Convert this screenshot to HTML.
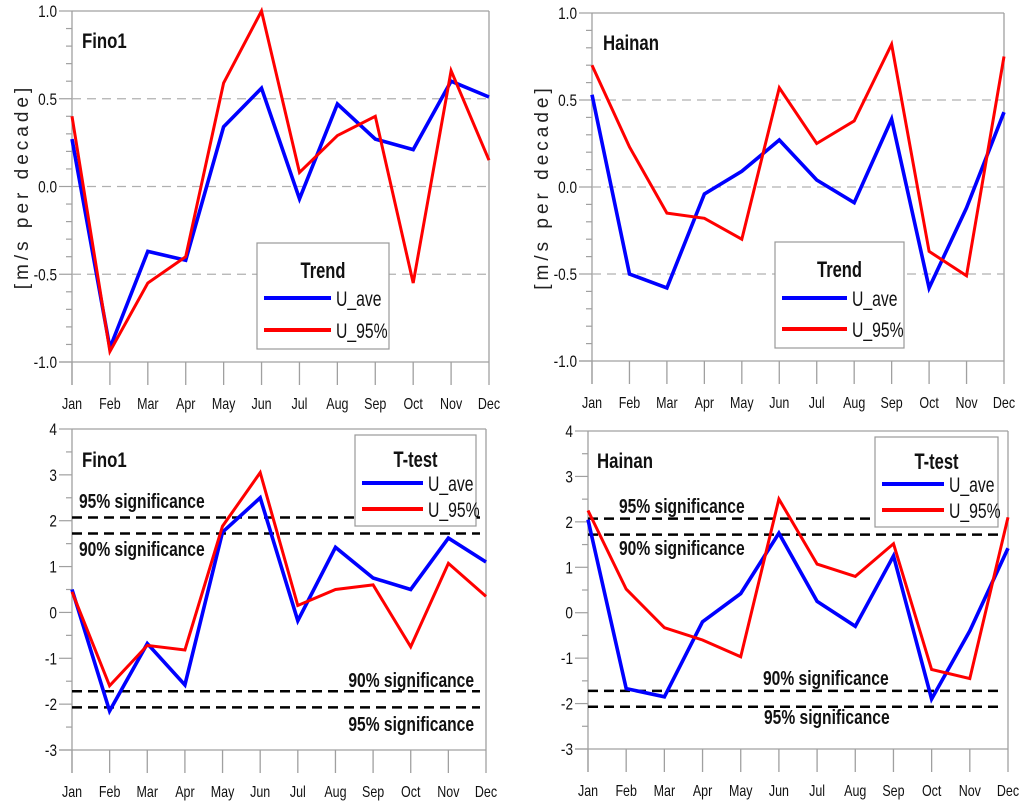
<!DOCTYPE html>
<html><head><meta charset="utf-8"><style>
html,body{margin:0;padding:0;background:#fff;}
svg{display:block;font-family:"Liberation Sans",sans-serif;}
</style></head><body>
<svg id="c" width="1024" height="808" viewBox="0 0 1024 808" xmlns="http://www.w3.org/2000/svg"></svg>
<script>
const months = ["Jan","Feb","Mar","Apr","May","Jun","Jul","Aug","Sep","Oct","Nov","Dec"];
const fino1TrendAve = [0.27,-0.92,-0.37,-0.42,0.34,0.56,-0.07,0.47,0.27,0.21,0.60,0.51];
const fino1Trend95 = [0.40,-0.94,-0.55,-0.40,0.59,1.00,0.08,0.29,0.40,-0.55,0.66,0.15];
const hainanTrendAve = [0.53,-0.50,-0.58,-0.04,0.09,0.27,0.04,-0.09,0.39,-0.58,-0.12,0.43];
const hainanTrend95 = [0.70,0.23,-0.15,-0.18,-0.30,0.57,0.25,0.38,0.82,-0.37,-0.51,0.75];
const fino1TAve = [0.5,-2.15,-0.68,-1.58,1.75,2.5,-0.18,1.42,0.75,0.5,1.62,1.1];
const fino1T95 = [0.45,-1.6,-0.72,-0.82,1.88,3.05,0.15,0.5,0.6,-0.75,1.07,0.35];
const hainanTAve = [2.05,-1.67,-1.85,-0.2,0.42,1.75,0.25,-0.3,1.25,-1.9,-0.4,1.42];
const hainanT95 = [2.25,0.52,-0.33,-0.6,-0.97,2.5,1.07,0.8,1.52,-1.25,-1.45,2.1];
const trendTicks = [1.0,0.5,0.0,-0.5,-1.0];
const trendTickLabels = ["1.0","0.5","0.0","-0.5","-1.0"];
const tTicks = [4,3,2,1,0,-1,-2,-3];
const tTickLabels = ["4","3","2","1","0","-1","-2","-3"];
const sigLevels = [2.07,1.72,-1.72,-2.07];

const svg = document.getElementById('c');
const NS = "http://www.w3.org/2000/svg";
function mk(tag, attrs, parent){const e=document.createElementNS(NS,tag);for(const k in attrs)e.setAttribute(k,attrs[k]);(parent||svg).appendChild(e);return e;}
function txt(parent,x,y,str,size,anchor,bold,sx){
  const wrap = mk('g',{transform:`translate(${x},${y}) scale(${sx||0.8},1)`},parent);
  const t = mk('text',{x:0,y:0,'text-anchor':anchor||'start','font-size':size,fill:'#111'},wrap);
  if(bold) t.setAttribute('font-weight','bold');
  t.textContent = str;
  return t;
}

function panel(p){
  const g = mk('g',{});
  
  
  const X = i => p.x0 + (p.x1-p.x0)*i/11;
  const Y = v => p.yt + (p.ymax - v)/(p.ymax-p.ymin)*(p.yb-p.yt);
  const grey="#a0a0a0";
  mk('line',{x1:p.x0,y1:p.yt,x2:p.x1,y2:p.yt,stroke:grey,'stroke-width':1.3},g);
  mk('line',{x1:p.x1,y1:p.yt,x2:p.x1,y2:p.yb,stroke:grey,'stroke-width':1.3},g);
  mk('line',{x1:p.x0-13,y1:p.yb,x2:p.x1,y2:p.yb,stroke:grey,'stroke-width':1.3},g);
  mk('line',{x1:p.x0,y1:p.yt,x2:p.x0,y2:p.yb+23,stroke:grey,'stroke-width':1.3},g);
  for(let v=p.ymin; v<=p.ymax+1e-9; v+=p.minor){
    const isMajor = p.ticks.some(t=>Math.abs(t-v)<1e-6);
    mk('line',{x1:p.x0-(isMajor?13:6),y1:Y(v),x2:p.x0,y2:Y(v),stroke:grey,'stroke-width':1.2},g);
  }
  p.ticks.forEach((t,i)=>{
    const tx = txt(g,p.x0-15,Y(t)+6,p.tickLabels[i],17,'end',false,0.8);
    
    
  });
  months.forEach((m,i)=>{
    mk('line',{x1:X(i),y1:p.yb,x2:X(i),y2:p.yb+23,stroke:grey,'stroke-width':1.3},g);
    const tx = txt(g,X(i),p.yb+47,m,16,'middle',false,0.78);
    
    
  });
  if(p.grid){
    p.grid.forEach(v=>{
      mk('line',{x1:p.x0,y1:Y(v),x2:p.x1,y2:Y(v),stroke:'#b0b0b0','stroke-width':1.2,'stroke-dasharray':'9,6'},g);
    });
  }
  if(p.sig){
    sigLevels.forEach(v=>{
      const l = mk('line',{x1:p.x0,y1:Y(v),x2:p.x1-6,y2:Y(v),stroke:'#000','stroke-width':2.5,'stroke-dasharray':'10,6'},g);
      
      
    });
    p.sigText.forEach(s=>{
      const t = txt(g,s[0],s[1],s[2],20,s[3],true,0.78);
      
      
    });
  }
  if(p.ytitle){
    const t = mk('text',{x:0,y:0,transform:`translate(${p.x0-44},${(p.yt+p.yb)/2}) rotate(-90)`,'text-anchor':'middle','font-size':19,'letter-spacing':'4',fill:'#222'},g);
    t.textContent = "[m/s per decade]";
    
    
  }
  [[p.ave,'#0000ff',3.6,'series-u-ave'],[p.p95,'#ff0000',3,'series-u-95']].forEach(s=>{
    const pts = s[0].map((v,i)=>X(i).toFixed(1)+','+Y(v).toFixed(1)).join(' ');
    const pl = mk('polyline',{points:pts,fill:'none',stroke:s[1],'stroke-width':s[2],'stroke-linejoin':'miter'},g);
    
    
  });
  const tt = txt(g,p.titleX,p.titleY,p.title,21,'start',true,0.8);
  
  
  const L = p.leg;
  const lg = mk('g',{},g);
  
  
  mk('rect',{x:L.x,y:L.y,width:L.w,height:L.h,fill:'#fff',stroke:'#999','stroke-width':1.2},lg);
  txt(lg,L.x+L.w/2,L.y+L.ty,L.title,22,'middle',true,0.75);
  [['U_ave','#0000ff',L.l1],['U_95%','#ff0000',L.l2]].forEach(e=>{
    const eg = mk('g',{},lg);
    
    
    mk('line',{x1:L.x+7,y1:e[2],x2:L.x+L.lw,y2:e[2],stroke:e[1],'stroke-width':4},eg);
    txt(eg,L.x+L.lw+5,e[2]+8,e[0],21,'start',false,0.75);
  });
}

panel({name:'fino1-trend-panel',x0:72,x1:489,yt:11,yb:362,ymin:-1,ymax:1,minor:0.1,ticks:trendTicks,tickLabels:trendTickLabels,grid:[0.5,0,-0.5],ytitle:true,ave:fino1TrendAve,p95:fino1Trend95,title:'Fino1',titleX:82,titleY:48,
  leg:{x:257,y:243,w:132,h:106,title:'Trend',ty:35,l1:298,l2:330,lw:74}});
panel({name:'hainan-trend-panel',x0:592,x1:1004,yt:13,yb:361,ymin:-1,ymax:1,minor:0.1,ticks:trendTicks,tickLabels:trendTickLabels,grid:[0.5,0,-0.5],ytitle:true,ave:hainanTrendAve,p95:hainanTrend95,title:'Hainan',titleX:603,titleY:50,
  leg:{x:775,y:242,w:129,h:106,title:'Trend',ty:35,l1:298,l2:329,lw:72}});
panel({name:'fino1-ttest-panel',x0:72,x1:486,yt:429,yb:750,ymin:-3,ymax:4,minor:0.5,ticks:tTicks,tickLabels:tTickLabels,sig:true,
  sigText:[[79,508,'95% significance','start'],[79,556,'90% significance','start'],[474,687,'90% significance','end'],[474,731,'95% significance','end']],
  ave:fino1TAve,p95:fino1T95,title:'Fino1',titleX:82,titleY:467,
  leg:{x:355,y:435,w:121,h:91,title:'T-test',ty:32,l1:483,l2:509,lw:68}});
panel({name:'hainan-ttest-panel',x0:588,x1:1008,yt:431,yb:749,ymin:-3,ymax:4,minor:0.5,ticks:tTicks,tickLabels:tTickLabels,sig:true,
  sigText:[[619,513,'95% significance','start'],[619,555,'90% significance','start'],[763,685,'90% significance','start'],[764,724,'95% significance','start']],
  ave:hainanTAve,p95:hainanT95,title:'Hainan',titleX:597,titleY:468,
  leg:{x:875,y:437,w:123,h:90,title:'T-test',ty:32,l1:484,l2:510,lw:69}});
</script>
</body></html>
